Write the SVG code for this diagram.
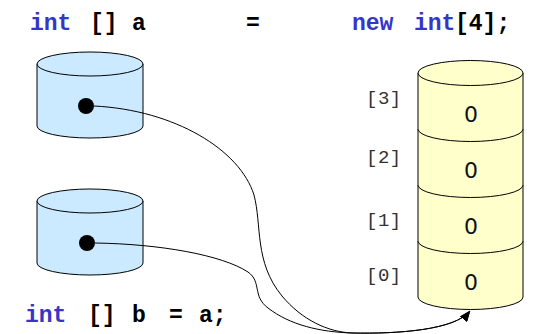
<svg xmlns="http://www.w3.org/2000/svg" width="550" height="334" viewBox="0 0 550 334">
  <style>
    .kw { font-family: "Liberation Mono", "Courier New", monospace; font-weight: bold; font-size: 23px; fill: #3535c8; }
    .code { font-family: "Liberation Mono", "Courier New", monospace; font-weight: bold; font-size: 23px; fill: #000; }
    .idx { font-family: "Liberation Mono", "DejaVu Sans Mono", monospace; font-size: 19px; letter-spacing: 0.5px; fill: #333; }
    .val { font-family: "DejaVu Sans", Verdana, sans-serif; font-size: 22px; fill: #111; text-anchor: middle; }
    .ref { fill: #cceaff; stroke: #000; stroke-width: 1; }
    .cell { fill: #ffffcc; stroke: #000; stroke-width: 1; }
    .wire { fill: none; stroke: #000; stroke-width: 1; }
  </style>
  <defs>
    <marker id="arrow" markerWidth="11" markerHeight="9" refX="10.5" refY="4.5" orient="auto" markerUnits="userSpaceOnUse">
      <path d="M0,0 L11,4.5 L0,9 Z" fill="#000"/>
    </marker>
  </defs>

  <!-- declaration line -->
  <g id="decl-a">
    <text class="kw" x="30" y="30">int</text>
    <text class="code" x="90" y="30">[]</text>
    <text class="code" x="132" y="30">a</text>
    <text class="code" x="246" y="30">=</text>
    <text class="kw" x="352" y="30">new</text>
    <text class="kw" x="414" y="30">int</text>
    <text class="code" x="455" y="30">[4];</text>
  </g>

  <!-- reference variable a -->
  <g id="var-a">
    <path class="ref" d="M37,64 L37,126 A53,12 0 0 0 143,126 L143,64 Z"/>
    <ellipse class="ref" cx="90" cy="64" rx="53" ry="12"/>
    <circle cx="86" cy="106" r="8" fill="#000"/>
  </g>

  <!-- reference variable b -->
  <g id="var-b">
    <path class="ref" d="M37,201 L37,263 A53,12 0 0 0 143,263 L143,201 Z"/>
    <ellipse class="ref" cx="90" cy="201" rx="53" ry="12"/>
    <circle cx="87" cy="243" r="8" fill="#000"/>
  </g>

  <!-- int array of four cells -->
  <g id="array">
    <path class="cell" d="M418,241 L418,297 A52.5,12.5 0 0 0 523,297 L523,241 Z"/>
    <path class="cell" d="M418,185 L418,241 A52.5,12.5 0 0 0 523,241 L523,185 Z"/>
    <path class="cell" d="M418,129 L418,185 A52.5,12.5 0 0 0 523,185 L523,129 Z"/>
    <path class="cell" d="M418,73 L418,129 A52.5,12.5 0 0 0 523,129 L523,73 Z"/>
    <ellipse class="cell" cx="470.5" cy="73" rx="52.5" ry="12.5"/>
    <text class="val" x="471" y="122">0</text>
    <text class="val" x="471" y="178">0</text>
    <text class="val" x="471" y="234">0</text>
    <text class="val" x="471" y="290">0</text>
    <text class="idx" x="366" y="104">[3]</text>
    <text class="idx" x="366" y="163">[2]</text>
    <text class="idx" x="366" y="226">[1]</text>
    <text class="idx" x="366" y="281">[0]</text>
  </g>

  <!-- assignment line -->
  <g id="decl-b">
    <text class="kw" x="25" y="322">int</text>
    <text class="code" x="88" y="322">[]</text>
    <text class="code" x="132" y="322">b</text>
    <text class="code" x="169" y="322">=</text>
    <text class="code" x="199" y="322">a;</text>
  </g>

  <!-- references pointing at the array -->
  <g id="connectors">
    <path class="wire" marker-end="url(#arrow)" d="M94,106 C175,110 240,150 254,195 C262,225 254,262 282,296 C302,320 328,332 352,333 C398,334 455,330 470,311"/>
    <path class="wire" marker-end="url(#arrow)" d="M95,243 C160,244 222,255 248,272 C262,282 252,296 268,308 C290,325 320,332 352,333 C398,334 455,330 470,311"/>
  </g>
</svg>
